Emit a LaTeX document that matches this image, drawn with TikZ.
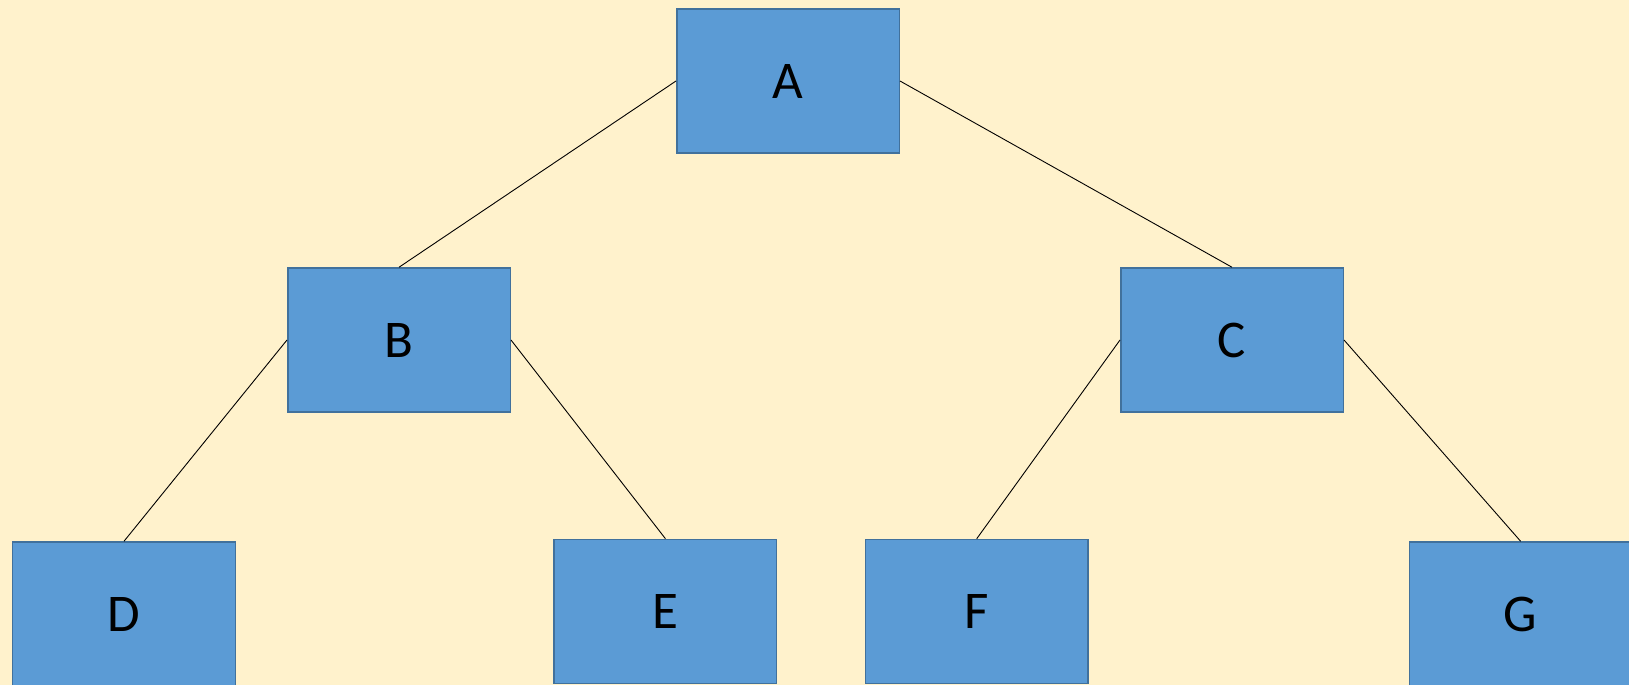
\documentclass[tikz,border=0pt]{standalone}
\usepackage{fontspec}
\setmainfont{Carlito}
\definecolor{bgc}{HTML}{FFF2CC}
\definecolor{boxfill}{HTML}{5B9BD5}
\definecolor{boxline}{HTML}{41719C}
\begin{document}
\begin{tikzpicture}[x=1bp,y=-1bp,
  treebox/.style={rectangle, draw=boxline, fill=boxfill, line width=1.5bp,
    minimum width=222.5bp, minimum height=144bp, inner sep=0pt,
    font=\fontsize{53bp}{60bp}\selectfont, text=black},
  link/.style={draw=black, line width=0.9bp}]
\useasboundingbox (0,0) rectangle (1629,685);
\fill[bgc] (0,0) rectangle (1629,685);
\clip (0,0) rectangle (1629,685);
\node[treebox] (A) at (788,81) {A};
\node[treebox] (B) at (399,340) {B};
\node[treebox] (C) at (1232,340) {C};
\node[treebox] (D) at (124,614) {D};
\node[treebox] (E) at (665.4,611.4) {E};
\node[treebox] (F) at (976.7,611.5) {F};
\node[treebox] (G) at (1520.6,614) {G};
\draw[link] (A.west) -- (B.north);
\draw[link] (A.east) -- (C.north);
\draw[link] (B.west) -- (D.north);
\draw[link] (B.east) -- (E.north);
\draw[link] (C.west) -- (F.north);
\draw[link] (C.east) -- (G.north);
\end{tikzpicture}
\end{document}
